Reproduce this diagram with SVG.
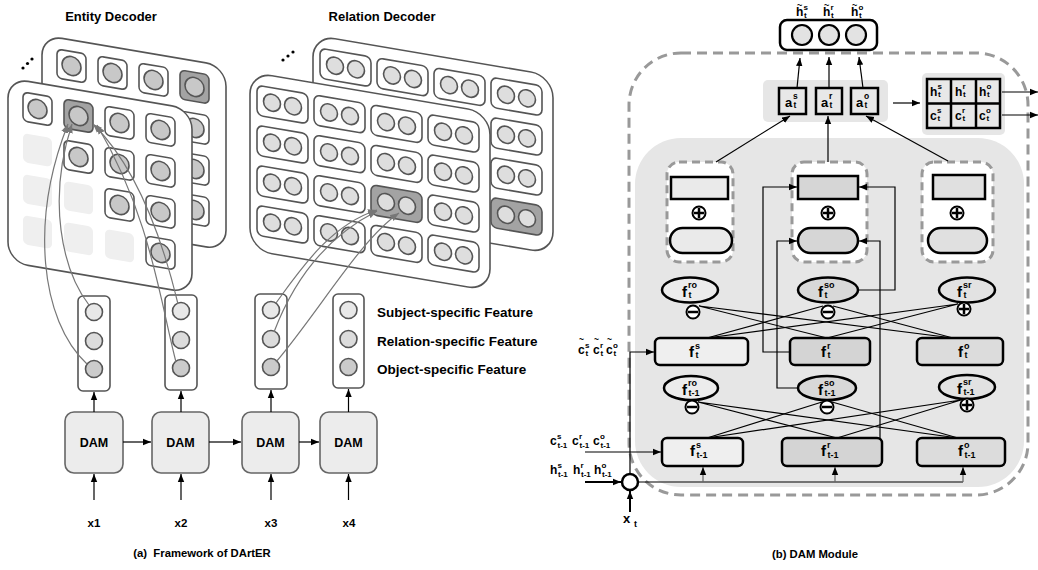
<svg xmlns="http://www.w3.org/2000/svg" width="1038" height="570" viewBox="0 0 1038 570">
<style>
.pn{fill:#fff;stroke:#555;stroke-width:1.6}
.cl{fill:#fff;stroke:#555;stroke-width:1.6}
.hl{fill:#a3a3a3;stroke:#555;stroke-width:1.6}
.ph{fill:#efefef}
.ec{fill:#c8c8c8;stroke:#555;stroke-width:1.6}
.rc{fill:#dedede;stroke:#555;stroke-width:1.6}
.cv{fill:none;stroke:#777;stroke-width:1.2}
.t{font-family:"Liberation Sans",Arial,sans-serif;font-weight:bold;fill:#000}
.ln{stroke:#000;stroke-width:1.2;fill:none}
.lg{stroke:#666;stroke-width:1.2;fill:none}
.bk{stroke:#000;stroke-width:2.5}
.dsh{fill:#fff;stroke:#999;stroke-width:3;stroke-dasharray:8 5}
.fb{font-size:15px}
.fs{font-size:9px}
.dam{fill:#ececec;stroke:#666;stroke-width:1.6}
.fcol{fill:#fff;stroke:#555;stroke-width:1.6}
.sg{fill:#fff;stroke:#000;stroke-width:2}
</style>
<defs>
<marker id="ab" viewBox="0 0 10 10" refX="10" refY="5" markerWidth="8" markerHeight="8" markerUnits="userSpaceOnUse" orient="auto"><path d="M0,1 L10,5 L0,9 z" fill="#000"/></marker>
<marker id="ag" viewBox="0 0 10 10" refX="10" refY="5" markerWidth="9" markerHeight="9" markerUnits="userSpaceOnUse" orient="auto"><path d="M0,1 L10,5 L0,9 z" fill="#777"/></marker>
</defs>

<!-- ===== (a) Framework ===== -->
<text class="t" x="111" y="21" font-size="13" text-anchor="middle">Entity Decoder</text>
<text class="t" x="382" y="21" font-size="13" text-anchor="middle">Relation Decoder</text>

<g id="dots-entity" fill="#000"><circle cx="23" cy="68" r="1.6"/><circle cx="27.5" cy="63.5" r="1.6"/><circle cx="32" cy="59" r="1.6"/></g>
<g id="dots-relation" fill="#000"><circle cx="283" cy="60" r="1.6"/><circle cx="288" cy="56" r="1.6"/><circle cx="293" cy="52" r="1.6"/></g>

<!-- Entity back panel -->
<g id="entity-back" transform="matrix(1,0.17,0,1,42,35)">
<rect class="pn" width="184" height="184" rx="20"/>
<rect class="cl" x="15" y="11.5" width="29" height="29" rx="5"/><circle class="ec" cx="29.5" cy="26" r="9.5"/>
<rect class="cl" x="56" y="11.5" width="29" height="29" rx="5"/><circle class="ec" cx="70.5" cy="26" r="9.5"/>
<rect class="cl" x="97" y="11.5" width="29" height="29" rx="5"/><circle class="ec" cx="111.5" cy="26" r="9.5"/>
<rect class="hl" x="138" y="11.5" width="29" height="29" rx="5"/><circle class="ec" cx="152.5" cy="26" r="9.5"/>
<rect class="cl" x="138" y="52.5" width="29" height="29" rx="5"/><circle class="ec" cx="152.5" cy="67" r="9.5"/>
<rect class="cl" x="138" y="93.5" width="29" height="29" rx="5"/><circle class="ec" cx="152.5" cy="108" r="9.5"/>
<rect class="cl" x="138" y="134.5" width="29" height="29" rx="5"/><circle class="ec" cx="152.5" cy="149" r="9.5"/>
</g>

<!-- Entity front panel -->
<g id="entity-front" transform="matrix(1,0.17,0,1,8,78)">
<rect class="pn" width="184" height="184" rx="20"/>
<rect class="cl" x="15" y="11.5" width="29" height="29" rx="5"/><circle class="ec" cx="29.5" cy="26" r="9.5"/>
<rect class="hl" x="56" y="11.5" width="29" height="29" rx="5"/><circle class="ec" cx="70.5" cy="26" r="9.5"/>
<rect class="cl" x="97" y="11.5" width="29" height="29" rx="5"/><circle class="ec" cx="111.5" cy="26" r="9.5"/>
<rect class="cl" x="138" y="11.5" width="29" height="29" rx="5"/><circle class="ec" cx="152.5" cy="26" r="9.5"/>
<rect class="ph" x="15" y="52.5" width="29" height="29" rx="5"/>
<rect class="cl" x="56" y="52.5" width="29" height="29" rx="5"/><circle class="ec" cx="70.5" cy="67" r="9.5"/>
<rect class="cl" x="97" y="52.5" width="29" height="29" rx="5"/><circle class="ec" cx="111.5" cy="67" r="9.5"/>
<rect class="cl" x="138" y="52.5" width="29" height="29" rx="5"/><circle class="ec" cx="152.5" cy="67" r="9.5"/>
<rect class="ph" x="15" y="93.5" width="29" height="29" rx="5"/>
<rect class="ph" x="56" y="93.5" width="29" height="29" rx="5"/>
<rect class="cl" x="97" y="93.5" width="29" height="29" rx="5"/><circle class="ec" cx="111.5" cy="108" r="9.5"/>
<rect class="cl" x="138" y="93.5" width="29" height="29" rx="5"/><circle class="ec" cx="152.5" cy="108" r="9.5"/>
<rect class="ph" x="15" y="134.5" width="29" height="29" rx="5"/>
<rect class="ph" x="56" y="134.5" width="29" height="29" rx="5"/>
<rect class="ph" x="97" y="134.5" width="29" height="29" rx="5"/>
<rect class="cl" x="138" y="134.5" width="29" height="29" rx="5"/><circle class="ec" cx="152.5" cy="149" r="9.5"/>
</g>

<!-- Relation back panel -->
<g id="relation-back" transform="matrix(1,0.17,0,1,313,35)">
<rect class="pn" width="240" height="178" rx="22"/>
<rect class="cl" x="7" y="12" width="51" height="30" rx="6"/><circle class="rc" cx="22" cy="27" r="8.5"/><circle class="rc" cx="43" cy="27" r="8.5"/>
<rect class="cl" x="64" y="12" width="51" height="30" rx="6"/><circle class="rc" cx="79" cy="27" r="8.5"/><circle class="rc" cx="100" cy="27" r="8.5"/>
<rect class="cl" x="121" y="12" width="51" height="30" rx="6"/><circle class="rc" cx="136" cy="27" r="8.5"/><circle class="rc" cx="157" cy="27" r="8.5"/>
<rect class="cl" x="178" y="12" width="51" height="30" rx="6"/><circle class="rc" cx="193" cy="27" r="8.5"/><circle class="rc" cx="214" cy="27" r="8.5"/>
<rect class="cl" x="178" y="52" width="51" height="30" rx="6"/><circle class="rc" cx="193" cy="67" r="8.5"/><circle class="rc" cx="214" cy="67" r="8.5"/>
<rect class="cl" x="178" y="92" width="51" height="30" rx="6"/><circle class="rc" cx="193" cy="107" r="8.5"/><circle class="rc" cx="214" cy="107" r="8.5"/>
<rect class="hl" x="178" y="132" width="51" height="30" rx="6"/><circle class="rc" cx="193" cy="147" r="8.5"/><circle class="rc" cx="214" cy="147" r="8.5"/>
</g>

<!-- Relation front panel -->
<g id="relation-front" transform="matrix(1,0.17,0,1,250,72)">
<rect class="pn" width="240" height="178" rx="22"/>
<rect class="cl" x="7" y="12" width="51" height="30" rx="6"/><circle class="rc" cx="22" cy="27" r="8.5"/><circle class="rc" cx="43" cy="27" r="8.5"/>
<rect class="cl" x="64" y="12" width="51" height="30" rx="6"/><circle class="rc" cx="79" cy="27" r="8.5"/><circle class="rc" cx="100" cy="27" r="8.5"/>
<rect class="cl" x="121" y="12" width="51" height="30" rx="6"/><circle class="rc" cx="136" cy="27" r="8.5"/><circle class="rc" cx="157" cy="27" r="8.5"/>
<rect class="cl" x="178" y="12" width="51" height="30" rx="6"/><circle class="rc" cx="193" cy="27" r="8.5"/><circle class="rc" cx="214" cy="27" r="8.5"/>
<rect class="cl" x="7" y="52" width="51" height="30" rx="6"/><circle class="rc" cx="22" cy="67" r="8.5"/><circle class="rc" cx="43" cy="67" r="8.5"/>
<rect class="cl" x="64" y="52" width="51" height="30" rx="6"/><circle class="rc" cx="79" cy="67" r="8.5"/><circle class="rc" cx="100" cy="67" r="8.5"/>
<rect class="cl" x="121" y="52" width="51" height="30" rx="6"/><circle class="rc" cx="136" cy="67" r="8.5"/><circle class="rc" cx="157" cy="67" r="8.5"/>
<rect class="cl" x="178" y="52" width="51" height="30" rx="6"/><circle class="rc" cx="193" cy="67" r="8.5"/><circle class="rc" cx="214" cy="67" r="8.5"/>
<rect class="cl" x="7" y="92" width="51" height="30" rx="6"/><circle class="rc" cx="22" cy="107" r="8.5"/><circle class="rc" cx="43" cy="107" r="8.5"/>
<rect class="cl" x="64" y="92" width="51" height="30" rx="6"/><circle class="rc" cx="79" cy="107" r="8.5"/><circle class="rc" cx="100" cy="107" r="8.5"/>
<rect class="hl" x="121" y="92" width="51" height="30" rx="6"/><circle class="rc" cx="136" cy="107" r="8.5"/><circle class="rc" cx="157" cy="107" r="8.5"/>
<rect class="cl" x="178" y="92" width="51" height="30" rx="6"/><circle class="rc" cx="193" cy="107" r="8.5"/><circle class="rc" cx="214" cy="107" r="8.5"/>
<rect class="cl" x="7" y="132" width="51" height="30" rx="6"/><circle class="rc" cx="22" cy="147" r="8.5"/><circle class="rc" cx="43" cy="147" r="8.5"/>
<rect class="cl" x="64" y="132" width="51" height="30" rx="6"/><circle class="rc" cx="79" cy="147" r="8.5"/><circle class="rc" cx="100" cy="147" r="8.5"/>
<rect class="cl" x="121" y="132" width="51" height="30" rx="6"/><circle class="rc" cx="136" cy="147" r="8.5"/><circle class="rc" cx="157" cy="147" r="8.5"/>
<rect class="cl" x="178" y="132" width="51" height="30" rx="6"/><circle class="rc" cx="193" cy="147" r="8.5"/><circle class="rc" cx="214" cy="147" r="8.5"/>
</g>

<!-- Feature columns -->
<g id="feat-x1"><rect class="fcol" x="78" y="296" width="32" height="95" rx="5"/><circle cx="94" cy="312" r="8.5" fill="#e8e8e8" stroke="#555" stroke-width="1.6"/><circle cx="94" cy="341" r="8.5" fill="#dcdcdc" stroke="#555" stroke-width="1.6"/><circle cx="94" cy="369" r="8.5" fill="#cbcbcb" stroke="#555" stroke-width="1.6"/></g>
<g id="feat-x2"><rect class="fcol" x="165" y="295" width="32" height="95" rx="5"/><circle cx="181" cy="311" r="8.5" fill="#e8e8e8" stroke="#555" stroke-width="1.6"/><circle cx="181" cy="340" r="8.5" fill="#dcdcdc" stroke="#555" stroke-width="1.6"/><circle cx="181" cy="368" r="8.5" fill="#cbcbcb" stroke="#555" stroke-width="1.6"/></g>
<g id="feat-x3"><rect class="fcol" x="255" y="294" width="32" height="95" rx="5"/><circle cx="271" cy="310" r="8.5" fill="#e8e8e8" stroke="#555" stroke-width="1.6"/><circle cx="271" cy="339" r="8.5" fill="#dcdcdc" stroke="#555" stroke-width="1.6"/><circle cx="271" cy="367" r="8.5" fill="#cbcbcb" stroke="#555" stroke-width="1.6"/></g>
<g id="feat-x4"><rect class="fcol" x="333" y="294" width="31" height="94" rx="5"/><circle cx="348.5" cy="310" r="8.5" fill="#e8e8e8" stroke="#555" stroke-width="1.6"/><circle cx="348.5" cy="339" r="8.5" fill="#dcdcdc" stroke="#555" stroke-width="1.6"/><circle cx="348.5" cy="367" r="8.5" fill="#cbcbcb" stroke="#555" stroke-width="1.6"/></g>

<text class="t" x="377" y="317" font-size="13.5">Subject-specific Feature</text>
<text class="t" x="377" y="346" font-size="13.5">Relation-specific Feature</text>
<text class="t" x="377" y="374" font-size="13.5">Object-specific Feature</text>

<!-- DAM boxes -->
<g id="dam1"><rect class="dam" x="65" y="412" width="58" height="61" rx="9"/><text class="t" x="94" y="447" font-size="12.5" text-anchor="middle">DAM</text></g>
<g id="dam2"><rect class="dam" x="152" y="412" width="57" height="61" rx="9"/><text class="t" x="180.5" y="447" font-size="12.5" text-anchor="middle">DAM</text></g>
<g id="dam3"><rect class="dam" x="242" y="412" width="57" height="61" rx="9"/><text class="t" x="270.5" y="447" font-size="12.5" text-anchor="middle">DAM</text></g>
<g id="dam4"><rect class="dam" x="320" y="412" width="57" height="61" rx="9"/><text class="t" x="348.5" y="447" font-size="12.5" text-anchor="middle">DAM</text></g>

<text class="t" x="94" y="527" font-size="11.5" text-anchor="middle">x1</text>
<text class="t" x="181" y="527" font-size="11.5" text-anchor="middle">x2</text>
<text class="t" x="271" y="527" font-size="11.5" text-anchor="middle">x3</text>
<text class="t" x="349" y="527" font-size="11.5" text-anchor="middle">x4</text>
<text class="t" x="202" y="557" font-size="11.3" text-anchor="middle" xml:space="preserve">(a)  Framework of DArtER</text>

<!-- ===== (b) DAM Module ===== -->
<rect id="outer-dashed" x="629" y="53" width="399" height="442" rx="52" fill="none" stroke="#999" stroke-width="3" stroke-dasharray="10 6"/>
<rect id="inner-gray" x="635" y="138" width="389" height="349" rx="46" fill="#e6e6e6"/>

<g id="out-h">
<rect x="780" y="20" width="97" height="30" rx="7" fill="#fff" stroke="#000" stroke-width="2.5"/>
<circle cx="802" cy="35" r="10" fill="#e3e3e3" stroke="#000" stroke-width="2.2"/>
<circle cx="829" cy="35" r="10" fill="#e3e3e3" stroke="#000" stroke-width="2.2"/>
<circle cx="856" cy="35" r="10" fill="#e3e3e3" stroke="#000" stroke-width="2.2"/>
</g>
<g id="out-labels" class="t">
<text x="797" y="8" font-size="9">~</text><text x="796" y="16" font-size="12">h<tspan font-size="8" x="803.5" y="9.5">s</tspan><tspan font-size="8" x="804" y="17.5">t</tspan></text>
<text x="824" y="8" font-size="9">~</text><text x="823" y="16" font-size="12">h<tspan font-size="8" x="830.5" y="9.5">r</tspan><tspan font-size="8" x="831" y="17.5">t</tspan></text>
<text x="852" y="8" font-size="9">~</text><text x="851" y="16" font-size="12">h<tspan font-size="8" x="858.5" y="9.5">o</tspan><tspan font-size="8" x="859" y="17.5">t</tspan></text>
</g>

<g id="a-boxes">
<rect x="763" y="80" width="125" height="42" rx="5" fill="#e6e6e6"/>
<rect x="779" y="88" width="27" height="26" fill="#e8e8e8" stroke="#000" stroke-width="2.5"/>
<rect x="816" y="88" width="26" height="26" fill="#e8e8e8" stroke="#000" stroke-width="2.5"/>
<rect x="851" y="88" width="27" height="26" fill="#e8e8e8" stroke="#000" stroke-width="2.5"/>
<text class="t" x="785" y="107" font-size="13">a<tspan font-size="8.5" x="793" y="99">s</tspan><tspan font-size="8.5" x="793.5" y="108">t</tspan></text>
<text class="t" x="821" y="107" font-size="13">a<tspan font-size="8.5" x="829" y="99">r</tspan><tspan font-size="8.5" x="829.5" y="108">t</tspan></text>
<text class="t" x="856" y="107" font-size="13">a<tspan font-size="8.5" x="864" y="99">o</tspan><tspan font-size="8.5" x="864.5" y="108">t</tspan></text>
</g>

<g id="hc-grid">
<rect x="922" y="73" width="83" height="62" rx="5" fill="#e6e6e6"/>
<rect x="927" y="79" width="73" height="49" fill="#e8e8e8" stroke="#000" stroke-width="2.5"/>
<line x1="951" y1="79" x2="951" y2="128" class="bk"/>
<line x1="976" y1="79" x2="976" y2="128" class="bk"/>
<line x1="927" y1="103.5" x2="1000" y2="103.5" class="bk"/>
<text class="t" x="930" y="96" font-size="12">h<tspan font-size="8" x="937.5" y="89">s</tspan><tspan font-size="8" x="938" y="97">t</tspan></text>
<text class="t" x="955" y="96" font-size="12">h<tspan font-size="8" x="962.5" y="89">r</tspan><tspan font-size="8" x="963" y="97">t</tspan></text>
<text class="t" x="979" y="96" font-size="12">h<tspan font-size="8" x="986.5" y="89">o</tspan><tspan font-size="8" x="987" y="97">t</tspan></text>
<text class="t" x="930" y="120" font-size="12">c<tspan font-size="8" x="937" y="113">s</tspan><tspan font-size="8" x="937.5" y="121">t</tspan></text>
<text class="t" x="955" y="120" font-size="12">c<tspan font-size="8" x="962" y="113">r</tspan><tspan font-size="8" x="962.5" y="121">t</tspan></text>
<text class="t" x="979" y="120" font-size="12">c<tspan font-size="8" x="986" y="113">o</tspan><tspan font-size="8" x="986.5" y="121">t</tspan></text>
</g>

<!-- dashed gate boxes -->
<g id="gate-s">
<rect class="dsh" x="667" y="162" width="66" height="100" rx="12"/>
<rect x="671" y="177" width="57" height="22" fill="#eaeaea" stroke="#000" stroke-width="2.5"/>
<circle class="sg" cx="699" cy="213" r="6.5"/><path d="M694 213h10M699 208v10" class="bk"/>
<rect x="670" y="228" width="62" height="25" rx="12.5" fill="#eaeaea" stroke="#000" stroke-width="2.5"/>
</g>
<g id="gate-r">
<rect class="dsh" x="792" y="162" width="75" height="100" rx="12"/>
<rect x="798" y="176" width="60" height="23" fill="#d6d6d6" stroke="#000" stroke-width="2.5"/>
<circle class="sg" cx="828" cy="213" r="6.5"/><path d="M823 213h10M828 208v10" class="bk"/>
<rect x="798" y="228" width="60" height="25" rx="12.5" fill="#d6d6d6" stroke="#000" stroke-width="2.5"/>
</g>
<g id="gate-o">
<rect class="dsh" x="922" y="162" width="71" height="100" rx="12"/>
<rect x="933" y="175" width="52" height="24" fill="#e0e0e0" stroke="#000" stroke-width="2.5"/>
<circle class="sg" cx="957" cy="213" r="6.5"/><path d="M952 213h10M957 208v10" class="bk"/>
<rect x="928" y="228" width="59" height="25" rx="12.5" fill="#e0e0e0" stroke="#000" stroke-width="2.5"/>
</g>

<!-- ellipses row t -->
<g id="e-ro-t"><ellipse cx="690" cy="290" rx="28" ry="12.5" fill="#ececec" stroke="#000" stroke-width="2.5"/>
<text class="t fb" x="682" y="297">f<tspan class="fs" x="688" y="288">ro</tspan><tspan class="fs" x="688.5" y="298">t</tspan></text></g>
<g id="e-so-t"><ellipse cx="828" cy="290" rx="30" ry="12.5" fill="#d8d8d8" stroke="#000" stroke-width="2.5"/>
<text class="t fb" x="818" y="297">f<tspan class="fs" x="824" y="288">so</tspan><tspan class="fs" x="824.5" y="298">t</tspan></text></g>
<g id="e-sr-t"><ellipse cx="967" cy="290" rx="28" ry="12.5" fill="#e2e2e2" stroke="#000" stroke-width="2.5"/>
<text class="t fb" x="957" y="297">f<tspan class="fs" x="963" y="288">sr</tspan><tspan class="fs" x="963.5" y="298">t</tspan></text></g>
<g id="sg-t">
<circle class="sg" cx="693" cy="312" r="6.5"/><path d="M688 312h10" class="bk"/>
<circle class="sg" cx="828" cy="312" r="6.5"/><path d="M823 312h10" class="bk"/>
<circle class="sg" cx="964" cy="309" r="6.5"/><path d="M959 309h10M964 304v10" class="bk"/>
</g>

<!-- f boxes row t -->
<g id="f-s-t"><rect x="655" y="338" width="93" height="27" rx="5" fill="#efefef" stroke="#000" stroke-width="2.5"/>
<text class="t fb" x="689" y="357">f<tspan class="fs" x="695" y="349">s</tspan><tspan class="fs" x="695.5" y="358">t</tspan></text></g>
<g id="f-r-t"><rect x="790" y="338" width="80" height="27" rx="5" fill="#d4d4d4" stroke="#000" stroke-width="2.5"/>
<text class="t fb" x="821" y="357">f<tspan class="fs" x="827" y="349">r</tspan><tspan class="fs" x="827.5" y="358">t</tspan></text></g>
<g id="f-o-t"><rect x="917" y="338" width="86" height="27" rx="5" fill="#dcdcdc" stroke="#000" stroke-width="2.5"/>
<text class="t fb" x="958" y="357">f<tspan class="fs" x="964" y="349">o</tspan><tspan class="fs" x="964.5" y="358">t</tspan></text></g>

<!-- ellipses row t-1 -->
<g id="e-ro-t1"><ellipse cx="691" cy="388" rx="27" ry="12" fill="#ececec" stroke="#000" stroke-width="2.5"/>
<text class="t fb" x="682" y="395">f<tspan class="fs" x="688" y="386">ro</tspan><tspan class="fs" x="688.5" y="396">t-1</tspan></text></g>
<g id="e-so-t1"><ellipse cx="827" cy="388" rx="29" ry="12" fill="#d8d8d8" stroke="#000" stroke-width="2.5"/>
<text class="t fb" x="818" y="395">f<tspan class="fs" x="824" y="386">so</tspan><tspan class="fs" x="824.5" y="396">t-1</tspan></text></g>
<g id="e-sr-t1"><ellipse cx="967" cy="387" rx="28" ry="12" fill="#e2e2e2" stroke="#000" stroke-width="2.5"/>
<text class="t fb" x="957" y="394">f<tspan class="fs" x="963" y="385">sr</tspan><tspan class="fs" x="963.5" y="395">t-1</tspan></text></g>
<g id="sg-t1">
<circle class="sg" cx="692" cy="407" r="6.5"/><path d="M687 407h10" class="bk"/>
<circle class="sg" cx="827" cy="407" r="6.5"/><path d="M822 407h10" class="bk"/>
<circle class="sg" cx="967" cy="405" r="6.5"/><path d="M962 405h10M967 400v10" class="bk"/>
</g>

<!-- f boxes row t-1 -->
<g id="f-s-t1"><rect x="662" y="438" width="81" height="28" rx="5" fill="#efefef" stroke="#000" stroke-width="2.5"/>
<text class="t fb" x="690" y="456">f<tspan class="fs" x="696" y="448">s</tspan><tspan class="fs" x="696.5" y="458">t-1</tspan></text></g>
<g id="f-r-t1"><rect x="782" y="438" width="100" height="28" rx="5" fill="#d4d4d4" stroke="#000" stroke-width="2.5"/>
<text class="t fb" x="821" y="456">f<tspan class="fs" x="827" y="448">r</tspan><tspan class="fs" x="827.5" y="458">t-1</tspan></text></g>
<g id="f-o-t1"><rect x="917" y="438" width="88" height="28" rx="5" fill="#dcdcdc" stroke="#000" stroke-width="2.5"/>
<text class="t fb" x="958" y="456">f<tspan class="fs" x="964" y="448">o</tspan><tspan class="fs" x="964.5" y="458">t-1</tspan></text></g>

<!-- input node -->
<g id="merge-node"><circle cx="630" cy="482" r="8" fill="#fff" stroke="#000" stroke-width="2.5"/></g>

<!-- input labels -->
<g id="ctilde-label" class="t">
<text x="579" y="342" font-size="8.5">~</text><text x="578" y="354" font-size="12">c<tspan font-size="8" x="585" y="348">s</tspan><tspan font-size="8" x="585.5" y="356">t</tspan></text>
<text x="594" y="342" font-size="8.5">~</text><text x="593" y="354" font-size="12">c<tspan font-size="8" x="600" y="348">r</tspan><tspan font-size="8" x="600.5" y="356">t</tspan></text>
<text x="607" y="342" font-size="8.5">~</text><text x="606" y="354" font-size="12">c<tspan font-size="8" x="613" y="348">o</tspan><tspan font-size="8" x="613.5" y="356">t</tspan></text>
</g>
<g id="cprev-label" class="t">
<text x="550" y="445" font-size="12">c<tspan font-size="8" x="557" y="439">s</tspan><tspan font-size="8" x="557.5" y="448">t-1</tspan></text>
<text x="572" y="445" font-size="12">c<tspan font-size="8" x="579" y="439">r</tspan><tspan font-size="8" x="579.5" y="448">t-1</tspan></text>
<text x="593" y="445" font-size="12">c<tspan font-size="8" x="600" y="439">o</tspan><tspan font-size="8" x="600.5" y="448">t-1</tspan></text>
</g>
<g id="hprev-label" class="t">
<text x="550" y="474" font-size="12">h<tspan font-size="8" x="557.5" y="468">s</tspan><tspan font-size="8" x="558" y="477">t-1</tspan></text>
<text x="573" y="474" font-size="12">h<tspan font-size="8" x="580.5" y="468">r</tspan><tspan font-size="8" x="581" y="477">t-1</tspan></text>
<text x="594" y="474" font-size="12">h<tspan font-size="8" x="601.5" y="468">o</tspan><tspan font-size="8" x="602" y="477">t-1</tspan></text>
</g>
<text class="t" x="623" y="523" font-size="13">x<tspan font-size="9" x="634" y="527">t</tspan></text>
<text class="t" x="815" y="558" font-size="11.3" text-anchor="middle">(b) DAM Module</text>

<!-- ===== connectors ===== -->
<g id="connectors">
<!-- entity decoder curves -->
<path class="cv" d="M87 364 C40 320 30 220 68 124" marker-end="url(#ag)"/>
<path class="cv" d="M89 305 C62 270 47 200 72 124" marker-end="url(#ag)"/>
<path class="cv" d="M178 304 C165 250 140 170 93 124" marker-end="url(#ag)"/>
<path class="cv" d="M176 362 C160 300 150 215 97 125" marker-end="url(#ag)"/>
<!-- relation decoder curves -->
<path class="cv" d="M276 303 C300 270 330 225 377 210" marker-end="url(#ag)"/>
<path class="cv" d="M274 332 C290 290 320 240 377 211" marker-end="url(#ag)"/>
<path class="cv" d="M276 362 C320 310 360 240 399 213" marker-end="url(#ag)"/>
<!-- DAM chain -->
<line class="ln" x1="94" y1="412" x2="94" y2="392" marker-end="url(#ab)"/>
<line class="ln" x1="181" y1="412" x2="181" y2="391" marker-end="url(#ab)"/>
<line class="ln" x1="271" y1="412" x2="271" y2="390" marker-end="url(#ab)"/>
<line class="ln" x1="348.5" y1="412" x2="348.5" y2="389" marker-end="url(#ab)"/>
<line class="ln" x1="123" y1="442" x2="151" y2="442" marker-end="url(#ab)"/>
<line class="ln" x1="209" y1="442" x2="241" y2="442" marker-end="url(#ab)"/>
<line class="ln" x1="299" y1="442" x2="319" y2="442" marker-end="url(#ab)"/>
<line class="ln" x1="94" y1="500" x2="94" y2="474" marker-end="url(#ab)"/>
<line class="ln" x1="181" y1="500" x2="181" y2="474" marker-end="url(#ab)"/>
<line class="ln" x1="271" y1="500" x2="271" y2="474" marker-end="url(#ab)"/>
<line class="ln" x1="348.5" y1="500" x2="348.5" y2="474" marker-end="url(#ab)"/>

<!-- DAM module: top -->
<line class="ln" x1="797" y1="88" x2="800" y2="58" marker-end="url(#ab)"/>
<line class="ln" x1="829" y1="88" x2="829" y2="57" marker-end="url(#ab)"/>
<line class="ln" x1="863" y1="88" x2="859" y2="57" marker-end="url(#ab)"/>
<line class="ln" x1="893" y1="103" x2="920" y2="103" marker-end="url(#ab)"/>
<line class="ln" x1="1002" y1="92" x2="1038" y2="92" marker-end="url(#ab)"/>
<line class="ln" x1="1002" y1="115" x2="1038" y2="115" marker-end="url(#ab)"/>
<line class="ln" x1="716" y1="162" x2="790" y2="116" marker-end="url(#ab)"/>
<line class="ln" x1="828" y1="162" x2="828" y2="116" marker-end="url(#ab)"/>
<line class="ln" x1="948" y1="161" x2="866" y2="116" marker-end="url(#ab)"/>

<!-- middle gate inputs -->
<path class="ln" d="M858 290 H895 V187 H859" marker-end="url(#ab)"/>
<path class="ln" d="M790 352 H763 V187 H797" marker-end="url(#ab)"/>
<path class="ln" d="M798 388 H777 V241 H797" marker-end="url(#ab)"/>
<path class="ln" d="M880 438 V241 H859" marker-end="url(#ab)"/>

<!-- cross lines row t -->
<path class="ln" d="M699 306 L827 338 M699 306 L953 338"/>
<path class="ln" d="M823 306 L707 338 M833 306 L953 338"/>
<path class="ln" d="M958 304 L707 338 M958 304 L827 338"/>
<!-- cross lines row t-1 -->
<path class="ln" d="M698 402 L837 438 M698 402 L958 438"/>
<path class="ln" d="M822 402 L707 438 M832 402 L958 438"/>
<path class="ln" d="M961 400 L707 438 M961 400 L837 438"/>

<!-- inputs -->
<path class="ln" d="M630 474 V352 H654" marker-end="url(#ab)"/>
<line class="ln" x1="585" y1="452" x2="661" y2="452" marker-end="url(#ab)"/>
<line x1="585" y1="482" x2="621" y2="482" stroke="#000" stroke-width="2" marker-end="url(#ab)"/>
<line x1="630" y1="512" x2="630" y2="491" stroke="#000" stroke-width="2" marker-end="url(#ab)"/>
<line class="ln" x1="638" y1="482" x2="963" y2="482" stroke-width="1.5"/>
<line class="lg" x1="703" y1="482" x2="703" y2="467" marker-end="url(#ab)"/>
<line class="lg" x1="835" y1="482" x2="835" y2="467" marker-end="url(#ab)"/>
<line class="lg" x1="963" y1="482" x2="963" y2="467" marker-end="url(#ab)"/>
</g>
</svg>
